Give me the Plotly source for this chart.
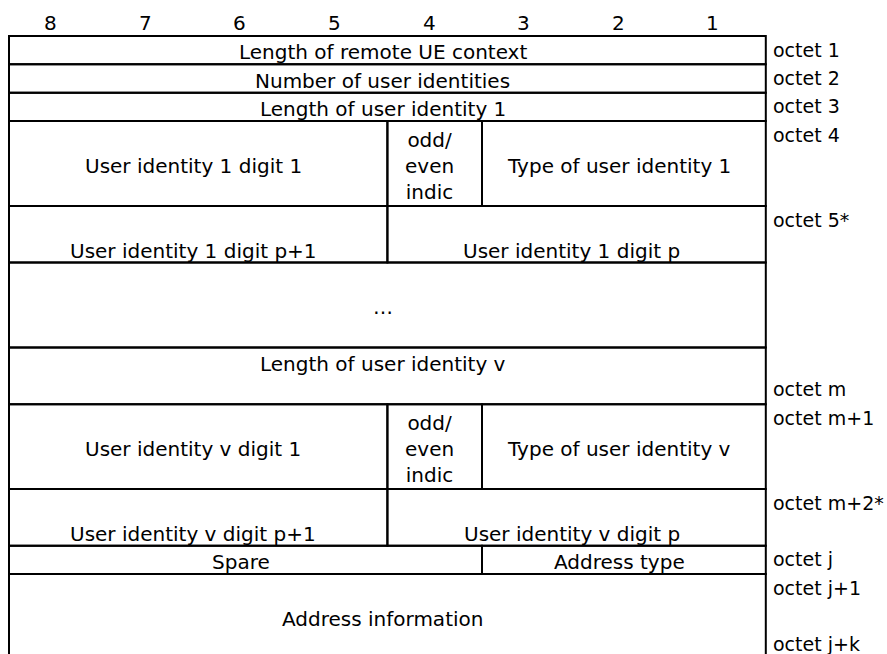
import plotly.graph_objects as go

# ---------------- data ----------------
bit_labels = ["8", "7", "6", "5", "4", "3", "2", "1"]

# row heights in text-line units, top to bottom
row_heights = [1, 1, 1, 3, 2, 3, 2, 3, 2, 1, 3]

# cells: row index, text, first bit-column (0 = bit 8), end column (exclusive), vertical placement
cell_rows = [0, 1, 2, 3, 3, 3, 4, 4, 5, 6, 7, 7, 7, 8, 8, 9, 9, 10]
cell_texts = [
    "Length of remote UE context",
    "Number of user identities",
    "Length of user identity 1",
    "User identity 1 digit 1",
    "odd/<br>even<br>indic",
    "Type of user identity 1",
    "User identity 1 digit p+1",
    "User identity 1 digit p",
    "…",
    "Length of user identity v",
    "User identity v digit 1",
    "odd/<br>even<br>indic",
    "Type of user identity v",
    "User identity v digit p+1",
    "User identity v digit p",
    "Spare",
    "Address type",
    "Address information",
]
cell_col_from = [0, 0, 0, 0, 4, 5, 0, 4, 0, 0, 0, 4, 5, 0, 4, 0, 5, 0]
cell_col_to = [8, 8, 8, 4, 5, 8, 4, 8, 8, 8, 4, 5, 8, 4, 8, 5, 8, 8]
cell_valign = ["middle", "middle", "middle", "middle", "middle", "middle",
               "bottom", "bottom", "middle", "top", "middle", "middle",
               "middle", "bottom", "bottom", "middle", "middle", "middle"]

octet_labels = ["octet 1", "octet 2", "octet 3", "octet 4", "octet 5*",
                "octet m", "octet m+1", "octet m+2*", "octet j", "octet j+1",
                "octet j+k"]
octet_lines = [0, 1, 2, 3, 6, 12, 13, 16, 18, 19, 21]

# ---------------- layout helpers ----------------
W, H = 887, 654
PX_PER_COL = 94.6
X0 = 9.0
PX_PER_LINE = 28.32
Y0 = 36.0
FONT = dict(family="DejaVu Sans", size=20, color="black")
OCT_FONT = dict(family="DejaVu Sans", size=19, color="black")
TXT_DX = -0.05
TXT_DY = 0.08

row_start = []
acc = 0
for h in row_heights:
    row_start.append(acc)
    acc += h

fig = go.Figure()
fig.add_trace(go.Scatter(x=[], y=[], mode="lines", showlegend=False))

shapes = []
annotations = []

for r, t, c0, c1, va in zip(cell_rows, cell_texts, cell_col_from, cell_col_to, cell_valign):
    y0 = row_start[r]
    y1 = y0 + row_heights[r]
    shapes.append(dict(type="rect", xref="x", yref="y", x0=c0, x1=c1, y0=y0, y1=y1,
                       line=dict(color="black", width=2), fillcolor="rgba(0,0,0,0)",
                       layer="above"))
    if va == "top":
        ty = y0 + 0.5
    elif va == "bottom":
        ty = y1 - 0.5
    else:
        ty = (y0 + y1) / 2
    annotations.append(dict(x=(c0 + c1) / 2 + TXT_DX, y=ty + TXT_DY, xref="x", yref="y",
                            text=t, showarrow=False, xanchor="center", yanchor="middle",
                            font=FONT, align="center"))

for i, b in enumerate(bit_labels):
    annotations.append(dict(x=i + 0.44, y=-0.47, xref="x", yref="y", text=b,
                            showarrow=False, xanchor="center", yanchor="middle", font=FONT))

for lab, ln in zip(octet_labels, octet_lines):
    annotations.append(dict(x=8.06, y=ln + 0.48, xref="x", yref="y", text=lab,
                            showarrow=False, xanchor="left", yanchor="middle", font=OCT_FONT))

fig.update_layout(
    width=W, height=H,
    margin=dict(l=0, r=0, t=0, b=0),
    paper_bgcolor="white", plot_bgcolor="white",
    xaxis=dict(range=[-X0 / PX_PER_COL, (W - X0) / PX_PER_COL], visible=False, fixedrange=True),
    yaxis=dict(range=[(H - Y0) / PX_PER_LINE, -Y0 / PX_PER_LINE], visible=False, fixedrange=True),
    shapes=shapes,
    annotations=annotations,
    showlegend=False,
)

fig.write_html("out.html", post_script="document.body.style.margin='0';",
               config={"displayModeBar": False})
